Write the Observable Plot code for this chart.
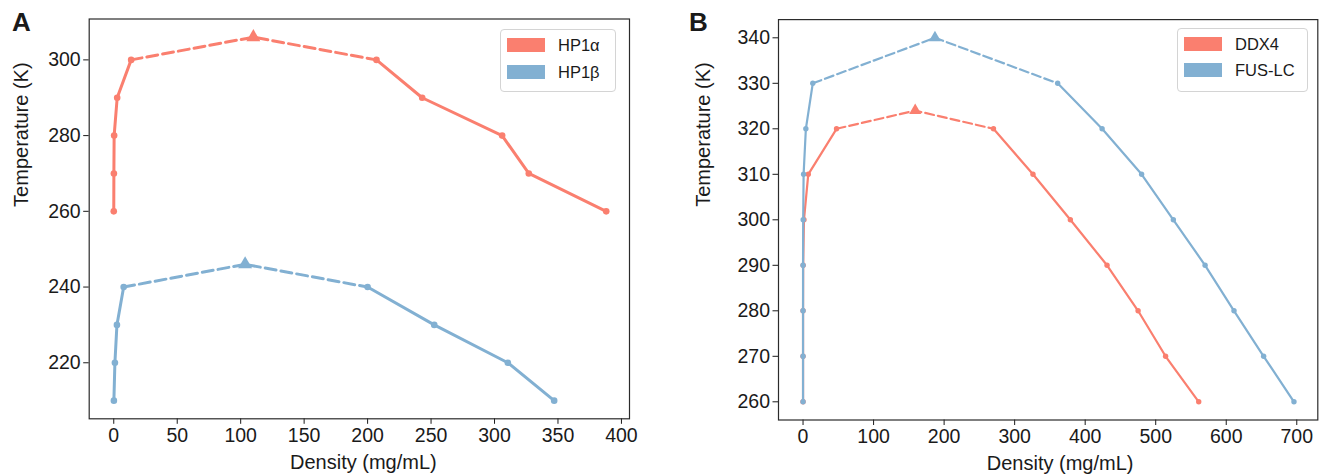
<!DOCTYPE html>
<html>
<head>
<meta charset="utf-8">
<script src="https://cdn.jsdelivr.net/npm/d3@7"></script>
<script src="https://cdn.jsdelivr.net/npm/@observablehq/plot@0.6"></script>
<style>
  body { margin: 0; width: 1326px; height: 476px; position: relative; background: #fff; overflow: hidden;
         font-family: "Liberation Sans", Arial, sans-serif; color: #1a1a1a; }
  .panel { position: absolute; top: 0; }
  .tag { position: absolute; font-weight: bold; font-size: 26px; line-height: 1; }
  .legend { position: absolute; border: 1px solid #d4d4d4; border-radius: 4px; background: rgba(255,255,255,0.85); box-sizing: border-box; }
  .row { position: absolute; display: flex; align-items: center; font-size: 16.5px; line-height: 1; }
  .sw { width: 38px; height: 14px; margin-right: 13px; }
</style>
</head>
<body>
<div id="A" class="panel" style="left:0"></div>
<div id="B" class="panel" style="left:660px"></div>
<div class="tag" style="left:12px;top:9px">A</div>
<div class="tag" style="left:689px;top:9px">B</div>
<div id="legA" class="legend" style="left:500px;top:29px;width:116px;height:63px"></div>
<div id="legB" class="legend" style="left:1177px;top:28px;width:131px;height:64px"></div>
<script>
// ---------- Data ----------
const colorRed = "#FA7F6F";
const colorBlue = "#82B0D2";

// Panel A
const xTicksA = [0, 50, 100, 150, 200, 250, 300, 350, 400];
const yTicksA = [220, 240, 260, 280, 300];
const seriesA = ["HP1α", "HP1β"];

const tempsHP1a = [260, 270, 280, 290, 300];
const diluteHP1a = [0.0, 0.1, 0.3, 2.7, 13.7];
const denseHP1a = [388, 327, 306, 243, 207];
const critHP1a = [110, 306]; // [density, temperature]

const tempsHP1b = [210, 220, 230, 240];
const diluteHP1b = [0.1, 0.9, 2.5, 7.8];
const denseHP1b = [347, 310.5, 252.5, 200];
const critHP1b = [103.5, 246];

// Panel B
const xTicksB = [0, 100, 200, 300, 400, 500, 600, 700];
const yTicksB = [260, 270, 280, 290, 300, 310, 320, 330, 340];
const seriesB = ["DDX4", "FUS-LC"];

const tempsDDX4 = [260, 270, 280, 290, 300, 310, 320];
const diluteDDX4 = [0.0, 0.0, 0.0, 0.2, 1.3, 7.4, 47.5];
const denseDDX4 = [561, 514, 475, 431, 379, 326, 270];
const critDDX4 = [159, 324];

const tempsFUS = [260, 270, 280, 290, 300, 310, 320, 330];
const diluteFUS = [0.0, 0.0, 0.0, 0.0, 0.2, 0.8, 4.0, 13.8];
const denseFUS = [696, 653, 611, 570, 525, 480, 424, 361];
const critFUS = [187, 340];

// ---------- Helpers ----------
function build(name, color, temps, dilute, dense, crit) {
  const n = temps.length - 1;
  const solid = [
    ...temps.map((t, i) => ({seg: name + "-lo", x: dilute[i], y: t})),
    ...temps.map((t, i) => ({seg: name + "-hi", x: dense[i], y: t}))
  ];
  const dashed = [
    {seg: name + "-d", x: dilute[n], y: temps[n]},
    {seg: name + "-d", x: crit[0], y: crit[1]},
    {seg: name + "-d", x: dense[n], y: temps[n]}
  ];
  const pts = [
    ...temps.map((t, i) => ({x: dilute[i], y: t})),
    ...temps.map((t, i) => ({x: dense[i], y: t}))
  ];
  const cp = [{x: crit[0], y: crit[1]}];
  return {color, solid, dashed, pts, cp};
}

function panel(cfg) {
  const marks = [Plot.frame({stroke: "#2b2b2b", strokeWidth: 1.2})];
  for (const s of cfg.series) {
    marks.push(Plot.line(s.solid, {x: "x", y: "y", z: "seg", stroke: s.color, strokeWidth: cfg.lw}));
    marks.push(Plot.line(s.dashed, {x: "x", y: "y", z: "seg", stroke: s.color, strokeWidth: cfg.lw, strokeDasharray: cfg.dash}));
    marks.push(Plot.dot(s.pts, {x: "x", y: "y", r: cfg.r, fill: s.color}));
    marks.push(Plot.dot(s.cp, {x: "x", y: "y", r: cfg.tr, fill: s.color, symbol: "triangle"}));
  }
  marks.push(Plot.text([cfg.xlabel], {frameAnchor: "bottom", dx: cfg.xlDx, dy: cfg.xlDy, lineAnchor: "middle", fontSize: 20, fill: "#1a1a1a"}));
  marks.push(Plot.text([cfg.ylabel], {frameAnchor: "left", dx: cfg.ylDx, dy: cfg.ylDy, rotate: -90, lineAnchor: "middle", fontSize: 20, fill: "#1a1a1a"}));
  return Plot.plot({
    width: cfg.width, height: 476,
    marginLeft: cfg.ml, marginRight: cfg.mr, marginTop: cfg.mt, marginBottom: cfg.mb,
    style: {fontFamily: "'Liberation Sans', Arial, sans-serif", fontSize: "19.5px", color: "#1a1a1a", background: "transparent", overflow: "visible"},
    x: {domain: cfg.xdom, ticks: cfg.xticks, tickSize: 5.5, tickPadding: 3.5, label: null},
    y: {domain: cfg.ydom, ticks: cfg.yticks, tickSize: 5.5, tickPadding: 3, label: null},
    marks
  });
}

const chartA = panel({
  width: 660, ml: 88.7, mr: 31, mt: 18.5, mb: 57.7,
  xdom: [-19.35, 406.35], ydom: [205.2, 310.8], xticks: xTicksA, yticks: yTicksA,
  lw: 3, r: 3.3, tr: 5.2, dash: "11,5",
  xlabel: "Density (mg/mL)", ylabel: "Temperature (K)",
  xlDx: 4, xlDy: 44, ylDx: -67.5, ylDy: -12,
  series: [
    build("a", colorRed, tempsHP1a, diluteHP1a, denseHP1a, critHP1a),
    build("b", colorBlue, tempsHP1b, diluteHP1b, denseHP1b, critHP1b)
  ]
});
document.getElementById("A").appendChild(chartA);

const chartB = panel({
  width: 666, ml: 118, mr: 8.7, mt: 19.1, mb: 56.5,
  xdom: [-34.8, 729.8], ydom: [256, 344], xticks: xTicksB, yticks: yTicksB,
  lw: 2.2, r: 2.7, tr: 4.5, dash: "9,4",
  xlabel: "Density (mg/mL)", ylabel: "Temperature (K)",
  xlDx: 12, xlDy: 44, ylDx: -75, ylDy: -13,
  series: [
    build("d", colorRed, tempsDDX4, diluteDDX4, denseDDX4, critDDX4),
    build("f", colorBlue, tempsFUS, diluteFUS, denseFUS, critFUS)
  ]
});
document.getElementById("B").appendChild(chartB);

// ---------- Legends ----------
function legend(id, names, colors, tops) {
  const el = document.getElementById(id);
  names.forEach((nm, i) => {
    const row = document.createElement("div");
    row.className = "row";
    row.style.left = "6px";
    row.style.top = tops[i] + "px";
    row.innerHTML = `<div class="sw" style="background:${colors[i]}"></div><span>${nm}</span>`;
    el.appendChild(row);
  });
}
legend("legA", seriesA, [colorRed, colorBlue], [7, 34]);
legend("legB", seriesB, [colorRed, colorBlue], [7, 33]);
</script>
</body>
</html>
